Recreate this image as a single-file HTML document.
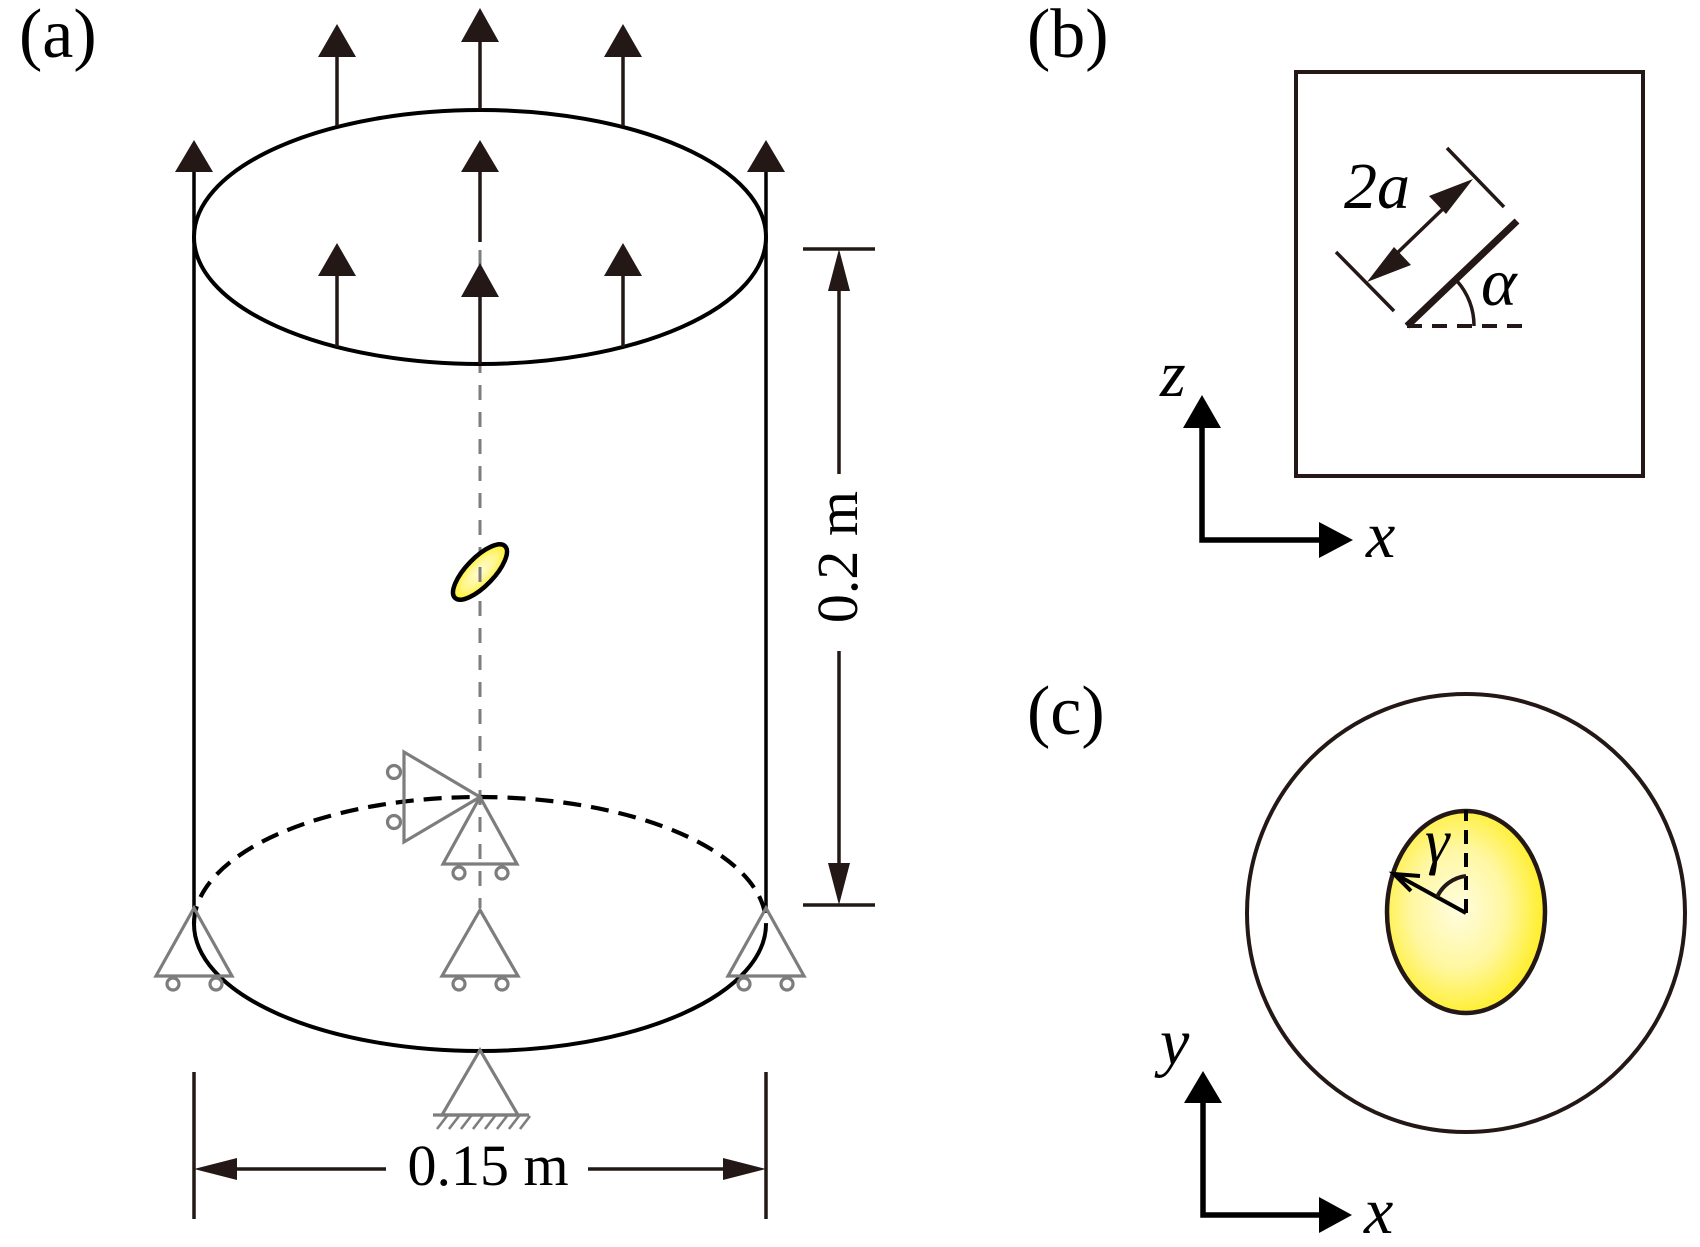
<!DOCTYPE html>
<html>
<head>
<meta charset="utf-8">
<style>
html,body{margin:0;padding:0;background:#fff;}
svg{display:block;}
text{font-family:"Liberation Serif","Times New Roman",serif;fill:#000;}
.it{font-style:italic;}
</style>
</head>
<body>
<svg width="1700" height="1247" viewBox="0 0 1700 1247" xmlns="http://www.w3.org/2000/svg">
<defs>
<radialGradient id="yg" cx="50%" cy="50%" r="55%">
<stop offset="0%" stop-color="#fffbd6"/>
<stop offset="55%" stop-color="#fff68a"/>
<stop offset="100%" stop-color="#ffee10"/>
</radialGradient>
<radialGradient id="yg2" cx="45%" cy="48%" r="60%">
<stop offset="0%" stop-color="#fffde0"/>
<stop offset="50%" stop-color="#fff7a0"/>
<stop offset="100%" stop-color="#ffec10"/>
</radialGradient>
</defs>

<!-- (a) label -->
<text x="19" y="57" font-size="70">(a)</text>

<!-- gray dashed center line -->
<line x1="480" y1="250" x2="480" y2="908" stroke="#7d7d7d" stroke-width="3" stroke-dasharray="15 12"/>

<!-- cylinder side lines -->
<line x1="194" y1="172" x2="194" y2="908" stroke="#000" stroke-width="3.5"/>
<line x1="766" y1="172" x2="766" y2="908" stroke="#000" stroke-width="3.5"/>
<polygon points="194,140 175,172 213,172" fill="#231815"/>
<polygon points="766,140 747,172 785,172" fill="#231815"/>

<!-- top ellipse -->
<ellipse cx="480" cy="237" rx="286" ry="127" fill="none" stroke="#000" stroke-width="4"/>

<!-- arrows -->
<g stroke="#231815" stroke-width="3.5">
<line x1="337" y1="126" x2="337" y2="56"/>
<line x1="623" y1="126" x2="623" y2="56"/>
<line x1="480" y1="109" x2="480" y2="41"/>
<line x1="480" y1="242" x2="480" y2="171"/>
<line x1="337" y1="347" x2="337" y2="275"/>
<line x1="623" y1="347" x2="623" y2="275"/>
<line x1="480" y1="364" x2="480" y2="296"/>
</g>
<g fill="#231815">
<polygon points="337,24 318,57 356,57"/>
<polygon points="623,24 604,57 642,57"/>
<polygon points="480,8 461,42 499,42"/>
<polygon points="480,140 461,172 499,172"/>
<polygon points="337,243 318,276 356,276"/>
<polygon points="623,243 604,276 642,276"/>
<polygon points="480,263 461,297 499,297"/>
</g>

<!-- small yellow inclusion -->
<g transform="translate(480,572) rotate(-46)">
<ellipse cx="0" cy="0" rx="36" ry="14" fill="url(#yg)"/>
</g>
<line x1="480" y1="567" x2="480" y2="582" stroke="#7d7d7d" stroke-width="3"/>
<g transform="translate(480,572) rotate(-46)">
<ellipse cx="0" cy="0" rx="36" ry="14" fill="none" stroke="#000" stroke-width="4.5"/>
</g>

<!-- bottom ellipse: dashed top half, solid bottom half -->
<path d="M194,924 A286,127 0 0 1 766,924" fill="none" stroke="#000" stroke-width="4.2" stroke-dasharray="18 10"/>
<path d="M194,924 A286,127 0 0 0 766,924" fill="none" stroke="#000" stroke-width="4"/>

<!-- supports (gray) -->
<g fill="none" stroke="#7d7d7d" stroke-width="3.2">
<polygon points="194,908 156,976 232,976"/>
<circle cx="173" cy="984" r="6"/>
<circle cx="216" cy="984" r="6"/>
<polygon points="766,908 728,976 804,976"/>
<circle cx="744" cy="984" r="6"/>
<circle cx="787" cy="984" r="6"/>
<polygon points="480,910 442,976 518,976"/>
<circle cx="459" cy="984" r="6"/>
<circle cx="502" cy="984" r="6"/>
<polygon points="480,797 443,864 517,864"/>
<circle cx="459" cy="873" r="6"/>
<circle cx="502" cy="873" r="6"/>
<polygon points="480,797 404,752 404,842"/>
<circle cx="394" cy="772" r="6.5"/>
<circle cx="394" cy="822" r="6.5"/>
<polygon points="480,1050 442,1115 518,1115"/>
<line x1="433" y1="1115" x2="529" y2="1115"/>
<g stroke-width="2.6">
<line x1="447" y1="1116" x2="437" y2="1129"/>
<line x1="459" y1="1116" x2="449" y2="1129"/>
<line x1="471" y1="1116" x2="461" y2="1129"/>
<line x1="483" y1="1116" x2="473" y2="1129"/>
<line x1="495" y1="1116" x2="485" y2="1129"/>
<line x1="507" y1="1116" x2="497" y2="1129"/>
<line x1="519" y1="1116" x2="509" y2="1129"/>
<line x1="530" y1="1116" x2="520" y2="1129"/>
</g>
</g>

<!-- 0.2 m dimension -->
<g stroke="#231815" stroke-width="3.5">
<line x1="803" y1="249" x2="875" y2="249"/>
<line x1="803" y1="905" x2="875" y2="905"/>
<line x1="839" y1="288" x2="839" y2="474"/>
<line x1="839" y1="651" x2="839" y2="866"/>
</g>
<polygon points="839,249 828,291 850,291" fill="#231815"/>
<polygon points="839,905 828,863 850,863" fill="#231815"/>
<text transform="translate(857,557) rotate(-90)" x="0" y="0" font-size="58" text-anchor="middle">0.2 m</text>

<!-- 0.15 m dimension -->
<g stroke="#231815" stroke-width="3.5">
<line x1="194" y1="1072" x2="194" y2="1219"/>
<line x1="766" y1="1072" x2="766" y2="1219"/>
<line x1="234" y1="1169" x2="386" y2="1169"/>
<line x1="588" y1="1169" x2="726" y2="1169"/>
</g>
<polygon points="194,1169 237,1158 237,1180" fill="#231815"/>
<polygon points="766,1169 723,1158 723,1180" fill="#231815"/>
<text x="488" y="1185" font-size="58" text-anchor="middle">0.15 m</text>

<!-- (b) -->
<text x="1027" y="57" font-size="70">(b)</text>
<rect x="1296" y="72" width="347" height="404" fill="none" stroke="#231815" stroke-width="4"/>
<line x1="1407" y1="326" x2="1517" y2="221" stroke="#231815" stroke-width="7"/>
<g stroke="#231815" stroke-width="3.5" fill="none">
<line x1="1447" y1="148" x2="1504" y2="207"/>
<line x1="1336" y1="252" x2="1394" y2="311"/>
<line x1="1448" y1="204" x2="1392" y2="258"/>
<line x1="1407" y1="326" x2="1528" y2="326" stroke-dasharray="15 10" stroke-width="4"/>
<path d="M1474,326 A67,67 0 0 0 1457,281"/>
</g>
<polygon points="1473,179 1429,196 1446,214" fill="#231815"/>
<polygon points="1367,282 1411,265 1394,247" fill="#231815"/>
<text class="it" x="1344" y="208" font-size="66">2a</text>
<text class="it" x="1481" y="305" font-size="68">α</text>

<!-- (b) axes -->
<g stroke="#000" stroke-width="5.5" fill="none">
<polyline points="1202,426 1202,540 1321,540"/>
</g>
<polygon points="1202,395 1183,428 1221,428" fill="#000"/>
<polygon points="1353,540 1319,522 1319,558" fill="#000"/>
<text class="it" x="1160" y="396" font-size="66">z</text>
<text class="it" x="1366" y="557" font-size="66">x</text>

<!-- (c) -->
<text x="1027" y="734" font-size="70">(c)</text>
<circle cx="1466" cy="913" r="219" fill="none" stroke="#231815" stroke-width="4"/>
<ellipse cx="1466" cy="912" rx="79" ry="101" fill="url(#yg2)" stroke="#231815" stroke-width="4.5"/>
<line x1="1466" y1="913" x2="1466" y2="810" stroke="#000" stroke-width="4" stroke-dasharray="14 9"/>
<g stroke="#000" stroke-width="4" fill="none" stroke-linecap="butt">
<line x1="1466" y1="913" x2="1395" y2="874"/>
<polyline points="1420,876 1394,874 1411,891"/>
<path d="M1437,897 A37,37 0 0 1 1466,876" stroke="#231815"/>
</g>
<text class="it" x="1425" y="862" font-size="62">γ</text>

<!-- (c) axes -->
<g stroke="#000" stroke-width="5.5" fill="none">
<polyline points="1203,1101 1203,1215 1321,1215"/>
</g>
<polygon points="1203,1071 1184,1103 1222,1103" fill="#000"/>
<polygon points="1352,1215 1319,1197 1319,1233" fill="#000"/>
<text class="it" x="1160" y="1064" font-size="66">y</text>
<text class="it" x="1364" y="1233" font-size="66">x</text>
</svg>
</body>
</html>
